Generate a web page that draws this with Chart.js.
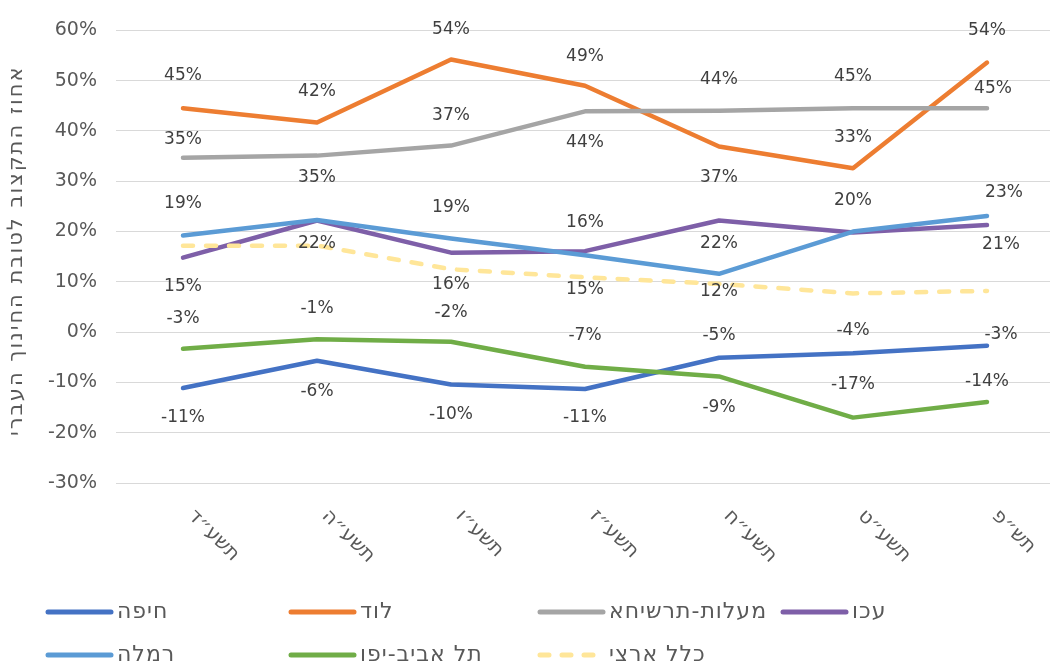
<!DOCTYPE html>
<html lang="he">
<head>
<meta charset="utf-8">
<script src="https://cdn.jsdelivr.net/npm/chart.js@4.4.1/dist/chart.umd.min.js"></script>
<style>
  html, body { margin: 0; padding: 0; background: #ffffff; overflow: hidden; }
  #wrap { width: 1050px; height: 668px; overflow: hidden; position: relative; }
  canvas { display: block; }
</style>
</head>
<body>
<div id="wrap"><canvas id="c" width="1054" height="668"></canvas></div>
<script>
// ---- data ----
const categories = ['תשע״ד', 'תשע״ה', 'תשע״ו', 'תשע״ז', 'תשע״ח', 'תשע״ט', 'תש״פ'];
const seriesNames = ['חיפה', 'לוד', 'מעלות-תרשיחא', 'עכו', 'רמלה', 'תל אביב-יפו', 'כלל ארצי'];
const haifa    = [-11.1, -5.7, -10.4, -11.3, -5.1, -4.2, -2.7];
const lod      = [44.5, 41.7, 54.2, 49.0, 36.9, 32.6, 53.6];
const maalot   = [34.7, 35.1, 37.1, 43.9, 44.0, 44.5, 44.5];
const akko     = [14.8, 22.2, 15.8, 16.1, 22.2, 19.8, 21.3];
const ramla    = [19.2, 22.3, 18.6, 15.3, 11.6, 20.0, 23.1];
const telaviv  = [-3.3, -1.4, -1.9, -6.9, -8.8, -17.0, -13.9];
const klal     = [17.2, 17.2, 12.5, 10.9, 9.6, 7.7, 8.2];
const yTicks   = { min: -30, max: 60, step: 10 };
const yTitle   = 'אחוז התקצוב לטובת החינוך העברי';

// ---- styling (not data) ----
const colors = ['#4472C4', '#ED7D31', '#A5A5A5', '#7E5FA8', '#5B9BD5', '#70AD47', '#FFE699'];
const dashes = [[], [], [], [], [], [], [10, 13]];
// label offsets [dx, dy] per point relative to the point; null = no label
const labelOffsets = [
  [[0,30],[0,31],[0,30],[0,29],[0,-22],[0,-23],[14,-11]],
  [[0,-33],[0,-31],[0,-30],[0,-29],[0,31],[0,-31],[0,-32]],
  [[0,-18],[0,22],[0,-30],[0,31],[0,-31],[0,-32],[6,-20]],
  [[0,29],[0,23],[0,32],[0,-29],[0,23],null,[14,20]],
  [[0,-32],null,[0,-31],[0,34],[0,18],[0,-31],[17,-23]],
  [[0,-30],[0,-31],[0,-29],[0,-31],[0,31],[0,-33],[0,-20]],
  null
];
const FONT = "'DejaVu Sans', 'Liberation Sans', sans-serif";

const seriesValues = [haifa, lod, maalot, akko, ramla, telaviv, klal];
const datasets = seriesValues.map((vals, i) => ({
  label: seriesNames[i],
  data: vals,
  borderColor: colors[i],
  backgroundColor: colors[i],
  borderWidth: 4.5,
  borderDash: dashes[i],
  borderCapStyle: 'round',
  borderJoinStyle: 'round',
  pointRadius: 0,
  pointHoverRadius: 0,
  tension: 0,
  fill: false,
  order: seriesValues.length - i
}));

const dataLabelPlugin = {
  id: 'dataLabels',
  afterDatasetsDraw(chart) {
    const ctx = chart.ctx;
    ctx.save();
    ctx.font = '17px ' + FONT;
    ctx.fillStyle = '#404040';
    ctx.textAlign = 'center';
    ctx.textBaseline = 'middle';
    chart.data.datasets.forEach((ds, i) => {
      const offs = labelOffsets[i];
      if (!offs) return;
      const meta = chart.getDatasetMeta(i);
      meta.data.forEach((pt, j) => {
        const o = offs[j];
        if (!o) return;
        ctx.fillText(Math.round(ds.data[j]) + '%', pt.x + o[0], pt.y + o[1]);
      });
    });
    ctx.restore();
  }
};

const xLabelPlugin = {
  id: 'xLabels',
  afterDraw(chart) {
    const ctx = chart.ctx;
    const xs = chart.scales.x;
    ctx.save();
    ctx.font = '20px ' + FONT;
    ctx.fillStyle = '#595959';
    ctx.textAlign = 'left';
    ctx.textBaseline = 'middle';
    chart.data.labels.forEach((lab, i) => {
      const x = xs.getPixelForTick(i);
      ctx.save();
      ctx.translate(x + 8, chart.chartArea.bottom + 30);
      ctx.rotate(Math.PI / 4);
      ctx.fillText(lab, 0, 0);
      ctx.restore();
    });
    ctx.restore();
  }
};

const yTitlePlugin = {
  id: 'yTitle',
  afterDraw(chart) {
    const ctx = chart.ctx;
    const ca = chart.chartArea;
    ctx.save();
    ctx.font = '21px ' + FONT;
    if ('letterSpacing' in ctx) ctx.letterSpacing = '2px';
    ctx.fillStyle = '#595959';
    ctx.textAlign = 'center';
    ctx.textBaseline = 'middle';
    ctx.translate(17, (ca.top + ca.bottom) / 2 - 6);
    ctx.rotate(-Math.PI / 2);
    ctx.fillText(yTitle, 0, 0);
    ctx.restore();
  }
};

const legendPlugin = {
  id: 'customLegend',
  afterDraw(chart) {
    const ctx = chart.ctx;
    const colX = [45, 288, 537, 780];
    const rowY = [612, 655];
    ctx.save();
    ctx.font = '22px ' + FONT;
    if ('letterSpacing' in ctx) ctx.letterSpacing = '1px';
    ctx.textAlign = 'left';
    ctx.textBaseline = 'middle';
    chart.data.datasets.forEach((ds, i) => {
      const x = colX[i % 4];
      const y = rowY[Math.floor(i / 4)];
      ctx.beginPath();
      ctx.lineWidth = 5;
      ctx.lineCap = 'round';
      ctx.strokeStyle = ds.borderColor;
      ctx.setLineDash(ds.borderDash && ds.borderDash.length ? [9, 13] : []);
      ctx.moveTo(x + 3, y);
      ctx.lineTo(x + 66, y);
      ctx.stroke();
      ctx.setLineDash([]);
      ctx.fillStyle = '#595959';
      ctx.fillText(ds.label, x + 72, y);
    });
    ctx.restore();
  }
};

new Chart(document.getElementById('c'), {
  type: 'line',
  data: { labels: categories, datasets: datasets },
  options: {
    responsive: false,
    animation: false,
    devicePixelRatio: 1,
    layout: { padding: { top: 25, bottom: 177, left: 0, right: 0 } },
    plugins: {
      legend: { display: false },
      tooltip: { enabled: false },
      title: { display: false }
    },
    scales: {
      x: {
        offset: true,
        ticks: { display: false },
        grid: { display: false },
        border: { display: false }
      },
      y: {
        min: yTicks.min,
        max: yTicks.max,
        afterFit(scale) { scale.width = 116; },
        ticks: {
          stepSize: yTicks.step,
          padding: 19,
          color: '#595959',
          font: { family: FONT, size: 19 },
          callback: v => v + '%'
        },
        grid: { color: '#D9D9D9', lineWidth: 1, drawTicks: false },
        border: { display: false },
        title: { display: false }
      }
    }
  },
  plugins: [dataLabelPlugin, xLabelPlugin, yTitlePlugin, legendPlugin]
});
</script>
</body>
</html>
